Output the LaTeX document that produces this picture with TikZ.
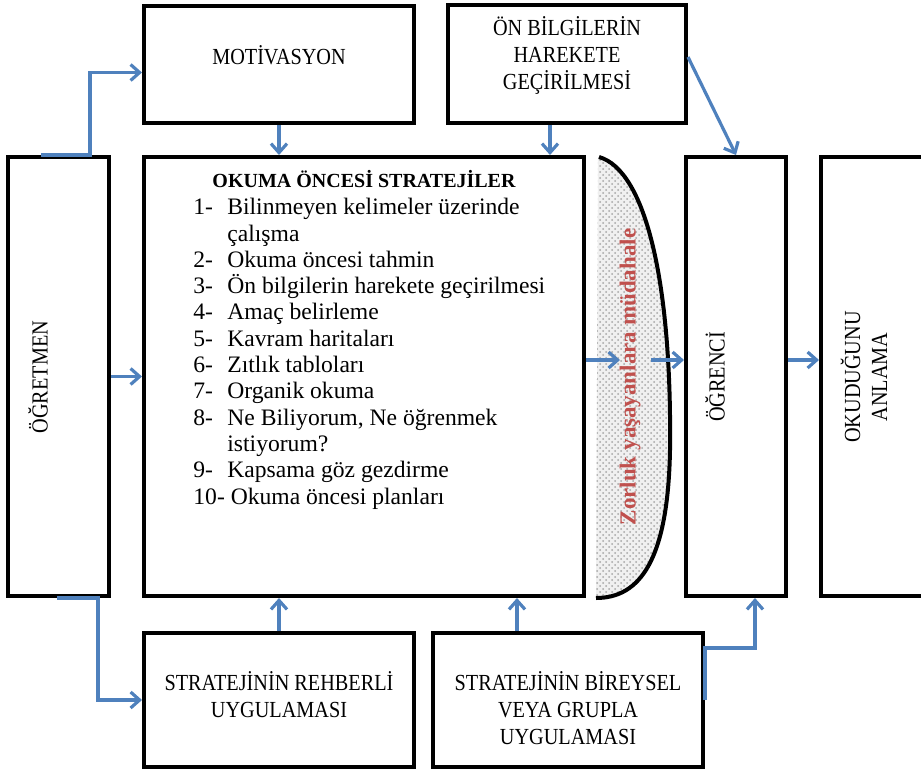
\documentclass[tikz,border=0pt]{standalone}
\usepackage{fontspec}
\setmainfont{Liberation Serif}
\newfontfamily\kutufont[FakeStretch=0.88]{Liberation Serif}
\usepackage{tikz}
\usetikzlibrary{arrows.meta,patterns}
\usepackage{xcolor}
\definecolor{okmavi}{RGB}{79,129,189}
\definecolor{zorkirmizi}{RGB}{192,80,77}

\begin{document}
\begin{tikzpicture}[x=0.5pt, y=-0.5pt,
  kutu/.style={draw=black, line width=2pt, fill=white, rectangle, inner sep=0pt},
  yazi/.style={font=\kutufont\fontsize{11.5}{13.5}\selectfont, align=center, inner sep=0pt},
  ok/.style={draw=okmavi, line width=1.6pt, -{Straight Barb[length=4.5pt,width=8pt]}}]
\useasboundingbox (0,0) rectangle (921,772);
\clip (0,0) rectangle (921,772);

% kutular
\node[kutu, minimum width=135pt, minimum height=58.5pt] (motiv) at (279,64.5) {};
\node[kutu, minimum width=119pt, minimum height=59pt] (onbilgi) at (567,64) {};
\node[kutu, minimum width=50.5pt, minimum height=219.5pt] (ogretmen) at (58.5,376.5) {};
\node[kutu, minimum width=220pt, minimum height=219.5pt] (okuma) at (364,376.5) {};
\node[kutu, minimum width=50pt, minimum height=219.5pt] (ogrenci) at (736,376.5) {};
\node[kutu, minimum width=69.5pt, minimum height=219.5pt] (anlama) at (890.5,376.5) {};
\node[kutu, minimum width=135pt, minimum height=67pt] (rehber) at (279,700) {};
\node[kutu, minimum width=135pt, minimum height=67pt] (bireysel) at (568,700) {};

% yazilar
\node[yazi] (motivT) at (279,55) {MOTİVASYON};
\node[yazi] (onbilgiT) at (567,55) {ÖN BİLGİLERİN\\HAREKETE\\GEÇİRİLMESİ};
\node[yazi, rotate=90] (ogretmenT) at (38,377) {ÖĞRETMEN};
\node[yazi, rotate=90] (ogrenciT) at (715,377) {ÖĞRENCİ};
\node[yazi, rotate=90] (anlamaT) at (864,377) {OKUDUĞUNU\\ANLAMA};
\node[yazi] (rehberT) at (279,695) {STRATEJİNİN REHBERLİ\\UYGULAMASI};
\node[yazi] (bireyselT) at (568,708) {STRATEJİNİN BİREYSEL\\VEYA GRUPLA\\UYGULAMASI};

\node[anchor=base, inner sep=0pt, font=\bfseries\fontsize{10}{12}\selectfont] (baslik) at (364,187) {OKUMA ÖNCESİ STRATEJİLER};
\node[anchor=north west, inner sep=0pt, align=left, font=\fontsize{11.8}{13.15}\selectfont] (liste) at (193,198) {%
\makebox[17pt][l]{1-}Bilinmeyen kelimeler üzerinde\\
\hspace*{17pt}çalışma\\
\makebox[17pt][l]{2-}Okuma öncesi tahmin\\
\makebox[17pt][l]{3-}Ön bilgilerin harekete geçirilmesi\\
\makebox[17pt][l]{4-}Amaç belirleme\\
\makebox[17pt][l]{5-}Kavram haritaları\\
\makebox[17pt][l]{6-}Zıtlık tabloları\\
\makebox[17pt][l]{7-}Organik okuma\\
\makebox[17pt][l]{8-}Ne Biliyorum, Ne öğrenmek\\
\hspace*{17pt}istiyorum?\\
\makebox[17pt][l]{9-}Kapsama göz gezdirme\\
10- Okuma öncesi planları};

% mudahale
\fill[black!6] (598,157) .. controls (645,170) and (672,280) .. (670,450) .. controls (668,560) and (640,598) .. (596,598) -- cycle;
\fill[pattern=crosshatch dots, pattern color=black!35] (598,157) .. controls (645,170) and (672,280) .. (670,450) .. controls (668,560) and (640,598) .. (596,598) -- cycle;
\draw[line width=2pt] (599,157) .. controls (645,170) and (672,280) .. (670,450) .. controls (668,560) and (640,598) .. (596,598);
\node[rotate=90, inner sep=0pt, text=zorkirmizi, font=\bfseries\fontsize{11.5}{13}\selectfont] (mudT) at (630,377) {Zorluk yaşayanlara müdahale};
\coordinate (mudL) at (620,360);
\coordinate (mudR) at (651,360);

% oklar
\draw[ok] ([xshift=17.5pt]ogretmen.north west) -- ([xshift=42pt]ogretmen.north west) |- ([yshift=-4pt]motiv.west);
\draw[ok] (motiv.south) -- (motiv.south |- okuma.north);
\draw[ok] ([xshift=-8.5pt]onbilgi.south) -- ([xshift=-8.5pt]onbilgi.south |- okuma.north);
\draw[ok] ([yshift=3.5pt]onbilgi.east) -- (ogrenci.north);
\draw[ok] (ogretmen.east) -- (okuma.west);
\draw[ok] (okuma.east |- mudL) -- (mudL);
\draw[ok] (mudR) -- (ogrenci.west |- mudR);
\draw[ok] (ogrenci.east |- mudR) -- (anlama.west |- mudR);
\draw[ok] ([xshift=25.5pt]ogretmen.south west) -- ([xshift=46pt]ogretmen.south west) |- (rehber.west);
\draw[ok] (rehber.north) -- (rehber.north |- okuma.south);
\draw[ok] ([xshift=-25.5pt]bireysel.north) -- ([xshift=-25.5pt]bireysel.north |- okuma.south);
\draw[ok] (bireysel.east) -- ([yshift=26pt]bireysel.east) -| ([xshift=9.5pt]ogrenci.south);
\end{tikzpicture}
\end{document}
